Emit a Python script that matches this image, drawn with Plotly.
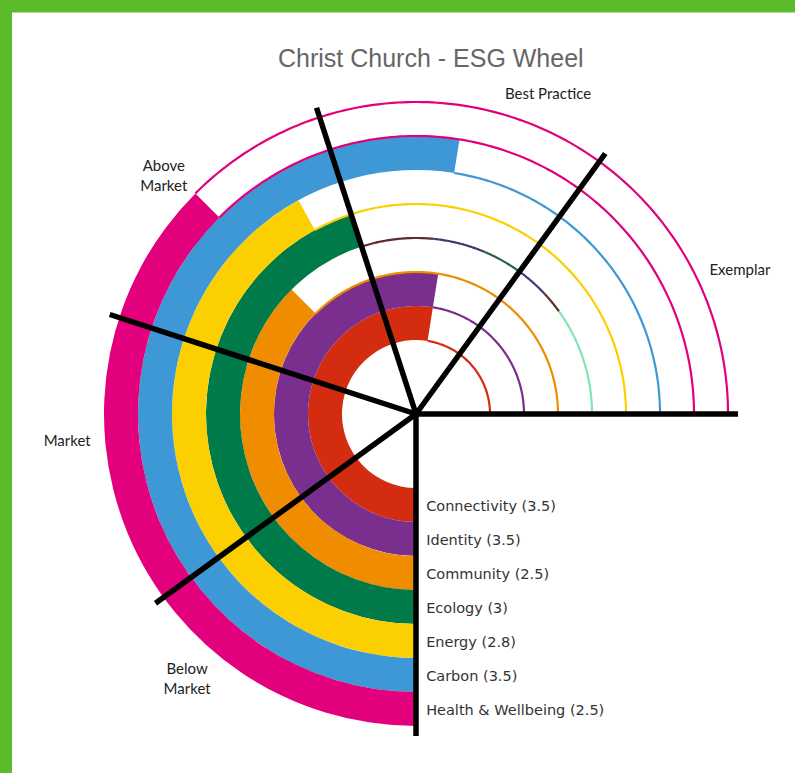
import numpy as np
import plotly.graph_objects as go

# ---------------- data ----------------
categories = ["Below Market", "Market", "Above Market", "Best Practice", "Exemplar"]
metrics = ["Connectivity", "Identity", "Community", "Ecology", "Energy", "Carbon", "Health & Wellbeing"]
scores = [3.5, 3.5, 2.5, 3, 2.8, 3.5, 2.5]
score_labels = ["3.5", "3.5", "2.5", "3", "2.8", "3.5", "2.5"]

# ---------------- styling / geometry ----------------
ring_colors = ["#d42c10", "#7a2e8e", "#ef8c00", "#007a48", "#fcd000", "#3f98d6", "#e2007c"]
ecology_outline = [(0.00, "#5e2a2e"), (0.22, "#44386a"), (0.38, "#2a6248"),
                   (0.50, "#46387a"), (0.60, "#5a3424"), (0.67, "#80e6b4")]
HOLE = 74.0          # radius of the empty centre (radial axis units = px)
RING = 34.0          # ring thickness
SWEEP = 270.0        # degrees used by the full scale
LINE_LEN = 322.0
R_MAX = 355.0
FONT_LBL = "Lato"
FONT_TXT = "DejaVu Sans"
FONT_TITLE = "Liberation Sans"

n_levels = len(categories)
deg_per_unit = SWEEP / n_levels
edges = [HOLE + i * RING for i in range(len(metrics) + 1)]

fig = go.Figure()

# filled part of each ring
theta_c = [s * deg_per_unit / 2 for s in scores]
widths = [s * deg_per_unit for s in scores]
fig.add_trace(go.Barpolar(
    r=[RING] * len(metrics), base=edges[:-1], theta=theta_c, width=widths,
    marker=dict(color=ring_colors, line=dict(width=0)),
    hoverinfo="skip", showlegend=False))

# thin outline of the remaining part of each ring (inner edge)
for i, (s, col) in enumerate(zip(scores, ring_colors)):
    start = s * deg_per_unit
    if metrics[i] == "Ecology":
        segs = ecology_outline
        for k, (f, c) in enumerate(segs):
            a0 = start + f * (SWEEP - start)
            f1 = segs[k + 1][0] if k + 1 < len(segs) else 1.0
            a1 = start + f1 * (SWEEP - start)
            th = np.linspace(a0, a1, 40)
            fig.add_trace(go.Scatterpolar(r=[edges[i]] * len(th), theta=th, mode="lines",
                                          line=dict(color=c, width=2.2), hoverinfo="skip",
                                          showlegend=False))
    else:
        th = np.linspace(start, SWEEP, 150)
        fig.add_trace(go.Scatterpolar(r=[edges[i]] * len(th), theta=th, mode="lines",
                                      line=dict(color=col, width=2.2), hoverinfo="skip",
                                      showlegend=False))
# outer edge outline of the outermost ring
th = np.linspace(scores[-1] * deg_per_unit, SWEEP, 150)
fig.add_trace(go.Scatterpolar(r=[edges[-1]] * len(th), theta=th, mode="lines",
                              line=dict(color=ring_colors[-1], width=2.2), hoverinfo="skip",
                              showlegend=False))

# black category boundary lines
bt, br = [], []
for k in range(n_levels + 1):
    bt += [k * deg_per_unit, k * deg_per_unit, None]
    br += [0, LINE_LEN, None]
fig.add_trace(go.Scatterpolar(r=br, theta=bt, mode="lines",
                              line=dict(color="black", width=5.5), hoverinfo="skip",
                              showlegend=False))

# category labels around the wheel
cat_r = [351, 350, 346, 345, 354]
cat_theta = [40.7, 85.3, 133.2, 202.5, 246.2]
cat_text = [c.replace(" ", "<br>") if c.endswith("Market") and c != "Market" else c for c in categories]
fig.add_trace(go.Scatterpolar(r=cat_r, theta=cat_theta, mode="text", text=cat_text,
                              textfont=dict(family=FONT_LBL, size=15, color="#222222"),
                              textposition="middle center", cliponaxis=False,
                              hoverinfo="skip", showlegend=False))

# metric labels along the south line
mid_r = [(edges[i] + edges[i + 1]) / 2 + 2 for i in range(len(metrics))]
fig.add_trace(go.Scatterpolar(r=mid_r, theta=[0] * len(metrics), mode="text",
                              text=["\u2002\u2009%s (%s)" % (m, v) for m, v in zip(metrics, score_labels)],
                              textposition="middle right", cliponaxis=False,
                              textfont=dict(family=FONT_TXT, size=14.5, color="#333333"),
                              hoverinfo="skip", showlegend=False))

W, H = 820, 773      # figure a bit wider than the window; positions below are window px
cx, cy = 416, 414
fig.update_layout(
    width=W, height=H, margin=dict(l=0, r=0, t=0, b=0),
    paper_bgcolor="white", plot_bgcolor="white",
    polar=dict(
        domain=dict(x=[(cx - R_MAX) / W, (cx + R_MAX) / W],
                    y=[1 - (cy + R_MAX) / H, 1 - (cy - R_MAX) / H]),
        bgcolor="rgba(0,0,0,0)",
        radialaxis=dict(range=[0, R_MAX], visible=False, showgrid=False),
        angularaxis=dict(rotation=-90, direction="clockwise", visible=False,
                         showgrid=False),
    ),
    annotations=[dict(text="Christ Church - ESG Wheel", x=431 / W, y=1 - 58 / H,
                      xref="paper", yref="paper", showarrow=False,
                      xanchor="center", yanchor="middle",
                      font=dict(family=FONT_TITLE, size=25, color="#666666"))],
    shapes=[
        dict(type="rect", xref="paper", yref="paper", x0=0, x1=1, y0=1 - 12.5 / H, y1=1,
             fillcolor="#5cbb2a", line=dict(width=0), layer="above"),
        dict(type="rect", xref="paper", yref="paper", x0=0, x1=12 / W, y0=0, y1=1,
             fillcolor="#5cbb2a", line=dict(width=0), layer="above"),
    ],
)

fig.write_html("out.html", config={"displayModeBar": False},
               post_script="document.body.style.margin='0';document.body.style.overflow='hidden';"
                           "document.documentElement.style.background='white';"
                           "document.body.style.background='white';")
